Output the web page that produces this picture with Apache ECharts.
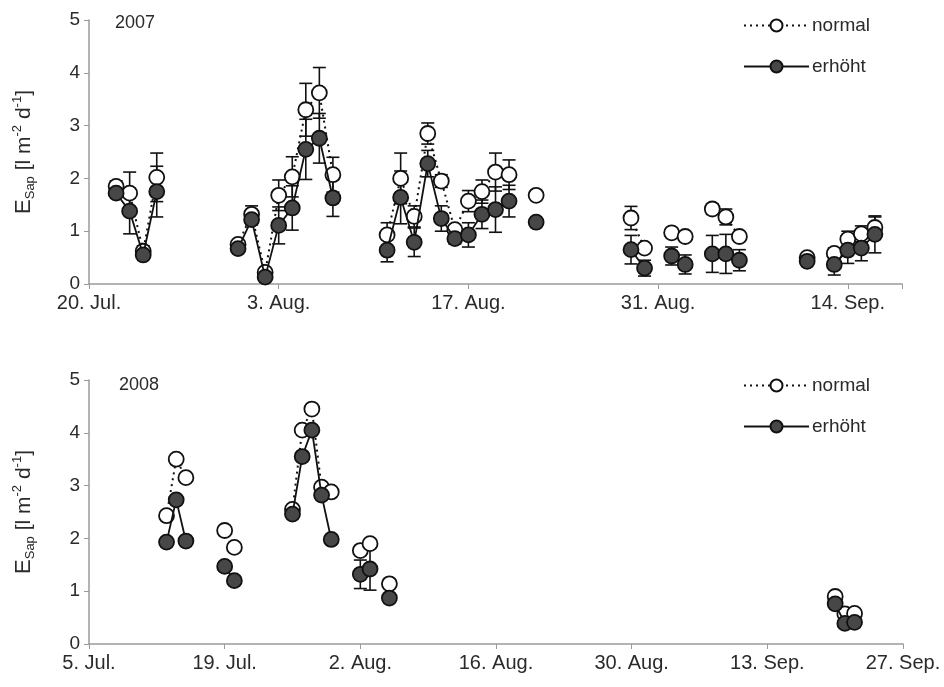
<!DOCTYPE html>
<html>
<head>
<meta charset="utf-8">
<script src="https://cdn.jsdelivr.net/npm/echarts@6/dist/echarts.min.js"></script>
<style>html,body{margin:0;padding:0;background:#fff}#c{width:944px;height:687px}</style>
</head>
<body>
<div id="c"></div>
<script>
// ---------- DATA ----------
// x = days since 20 Jul 2007 (top) / 5 Jul 2008 (bottom)
const topTickLabels = {0:'20. Jul.',14:'3. Aug.',28:'17. Aug.',42:'31. Aug.',56:'14. Sep.'};
const botTickLabels = {0:'5. Jul.',14:'19. Jul.',28:'2. Aug.',42:'16. Aug.',56:'30. Aug.',70:'13. Sep.',84:'27. Sep.'};

const topDays      = [2,3,4,5, 11,12,13,14,15,16,17,18, 22,23,24,25,26,27,28,29,30,31,33, 40,41,43,44,46,47,48, 53,55,56,57,58];
const topNormal    = [1.85,1.72,0.62,2.02, 0.75,1.32,0.22,1.68,2.03,3.30,3.62,2.07, 0.93,2.00,1.28,2.85,1.95,1.03,1.57,1.75,2.12,2.07,1.68, 1.25,0.68,0.97,0.90,1.42,1.27,0.90, 0.50,0.58,0.85,0.95,1.07];
const topErhoht    = [1.72,1.38,0.55,1.75, 0.67,1.22,0.13,1.11,1.44,2.55,2.76,1.63, 0.64,1.64,0.79,2.28,1.24,0.86,0.93,1.32,1.41,1.57,1.17, 0.65,0.30,0.53,0.37,0.57,0.57,0.45, 0.43,0.37,0.64,0.68,0.94];
const topNormalErr = [0.10,0.40,0.10,0.46, 0.05,0.16,0.05,0.29,0.38,0.50,0.48,0.33, 0.23,0.48,0.20,0.20,0.12,0.05,0.20,0.22,0.36,0.28,null, 0.22,0.05,0.05,0.05,0.10,0.15,0.05, 0.05,0.10,0.15,0.15,0.20];
const topErhohtErr = [0.05,0.43,0.05,0.48, 0.05,0.10,0.05,0.35,0.42,0.57,0.47,0.35, 0.22,0.50,0.27,0.25,0.24,0.10,0.23,0.27,0.43,0.30,null, 0.27,0.15,0.17,0.18,0.35,0.37,0.20, null,0.20,0.25,0.24,0.35];

const botDays      = [8,9,10, 14,15, 21,22,23,24,25, 28,29, 31, 77,78,79];
const botNormal    = [2.43,3.50,3.15, 2.15,1.83, 2.55,4.05,4.45,2.97,2.88, 1.77,1.90, 1.14, 0.90,0.57,0.58];
const botErhoht    = [1.93,2.73,1.95, 1.47,1.20, 2.46,3.55,4.05,2.82,1.98, 1.32,1.42, 0.87, 0.76,0.39,0.41];
const botNormalErr = [null,null,null, null,null, null,null,null,null,null, null,null, null, null,null,null];
const botErhohtErr = [null,null,null, null,null, null,null,null,null,null, 0.27,0.40, null, null,null,null];

// ---------- HELPERS ----------
function lineData(days, vals){
  const out=[];
  for(let i=0;i<days.length;i++){
    if(i>0 && days[i]-days[i-1]>1) out.push([days[i]-0.5,'-']);
    out.push([days[i], vals[i]]);
  }
  return out;
}
function errData(days, vals, errs){
  const out=[];
  for(let i=0;i<days.length;i++) if(errs[i]!=null) out.push([days[i], vals[i], errs[i]]);
  return out;
}
function renderErr(params, api){
  const x=api.value(0), y=api.value(1), e=api.value(2);
  const hi=api.coord([x,y+e]), lo=api.coord([x,Math.max(0,y-e)]);
  const w=6.5, st={stroke:'#111',lineWidth:1.6};
  return {type:'group',children:[
    {type:'line',shape:{x1:hi[0],y1:hi[1],x2:lo[0],y2:lo[1]},style:st},
    {type:'line',shape:{x1:hi[0]-w,y1:hi[1],x2:hi[0]+w,y2:hi[1]},style:st},
    {type:'line',shape:{x1:lo[0]-w,y1:lo[1],x2:lo[0]+w,y2:lo[1]},style:st}
  ]};
}

const FONT='Liberation Sans, Arial, sans-serif';
const axisCol='#9a9a9a';
const txtCol='#2a2a2a';
function xAxis(idx,max,labels){
  return {type:'value',gridIndex:idx,min:0,max:max,interval:14,
    axisLine:{show:true,lineStyle:{color:axisCol,width:1.5}},
    axisTick:{show:true,length:5,lineStyle:{color:axisCol}},
    splitLine:{show:false},
    axisLabel:{fontSize:20,color:txtCol,fontFamily:FONT,margin:9,
      formatter:v=>labels[v]!==undefined?labels[v]:''}};
}
function yAxis(idx){
  return {type:'value',gridIndex:idx,min:0,max:5,interval:1,
    axisLine:{show:true,lineStyle:{color:axisCol,width:1.5}},
    axisTick:{show:true,length:5,lineStyle:{color:axisCol}},
    splitLine:{show:false},
    axisLabel:{fontSize:19,color:txtCol,fontFamily:FONT,margin:9},
    name:'{e|E}{sub|Sap}{t| [l m}{sup|-2}{t| d}{sup|-1}{t|]}',
    nameLocation:'middle',nameRotate:90,nameGap:52,
    nameTextStyle:{fontFamily:FONT,color:txtCol,
      rich:{
        e:{fontSize:22,fontFamily:FONT,color:txtCol,lineHeight:26},
        t:{fontSize:21,fontFamily:FONT,color:txtCol,lineHeight:26},
        sub:{fontSize:13,fontFamily:FONT,color:txtCol,lineHeight:26,verticalAlign:'bottom'},
        sup:{fontSize:13,fontFamily:FONT,color:txtCol,lineHeight:26,verticalAlign:'top'}
      }}};
}
function seriesFor(idx, days, nrm, erh, nErr, eErr){
  return [
    {type:'custom',name:'errN'+idx,xAxisIndex:idx,yAxisIndex:idx,z:1,silent:true,
      renderItem:renderErr,data:errData(days,nrm,nErr),encode:{x:0,y:1}},
    {type:'custom',name:'errE'+idx,xAxisIndex:idx,yAxisIndex:idx,z:1,silent:true,
      renderItem:renderErr,data:errData(days,erh,eErr),encode:{x:0,y:1}},
    {type:'line',name:'normal',xAxisIndex:idx,yAxisIndex:idx,z:2,connectNulls:false,
      symbol:'circle',symbolSize:15,showAllSymbol:true,
      lineStyle:{color:'#111',width:2,type:[2,4]},
      itemStyle:{color:'#fff',borderColor:'#111',borderWidth:1.8},
      data:lineData(days,nrm)},
    {type:'line',name:'erhöht',xAxisIndex:idx,yAxisIndex:idx,z:3,connectNulls:false,
      symbol:'circle',symbolSize:15,showAllSymbol:true,
      lineStyle:{color:'#111',width:1.8,type:'solid'},
      itemStyle:{color:'#474747',borderColor:'#111',borderWidth:1.8},
      data:lineData(days,erh)}
  ];
}
function legend(top){
  return {data:['normal','erhöht'],orient:'vertical',left:738,top:top,
    itemWidth:65,itemHeight:15,itemGap:22,selectedMode:false,
    textStyle:{fontSize:19,color:txtCol,fontFamily:FONT,padding:[0,0,0,-2]}};
}

const chart=echarts.init(document.getElementById('c'),null,{renderer:'canvas'});
chart.setOption({
  animation:false,
  backgroundColor:'#fff',
  grid:[{left:89,top:20,width:813,height:264},{left:89,top:380,width:814,height:264}],
  xAxis:[xAxis(0,60,topTickLabels),xAxis(1,84,botTickLabels)],
  yAxis:[yAxis(0),yAxis(1)],
  legend:[legend(11),legend(371)],
  graphic:[
    {type:'text',left:115,top:14,style:{text:'2007',fontSize:18,fill:txtCol,fontFamily:FONT}},
    {type:'text',left:119,top:376,style:{text:'2008',fontSize:18,fill:txtCol,fontFamily:FONT}}
  ],
  series:[].concat(
    seriesFor(0,topDays,topNormal,topErhoht,topNormalErr,topErhohtErr),
    seriesFor(1,botDays,botNormal,botErhoht,botNormalErr,botErhohtErr))
});
</script>
</body>
</html>
